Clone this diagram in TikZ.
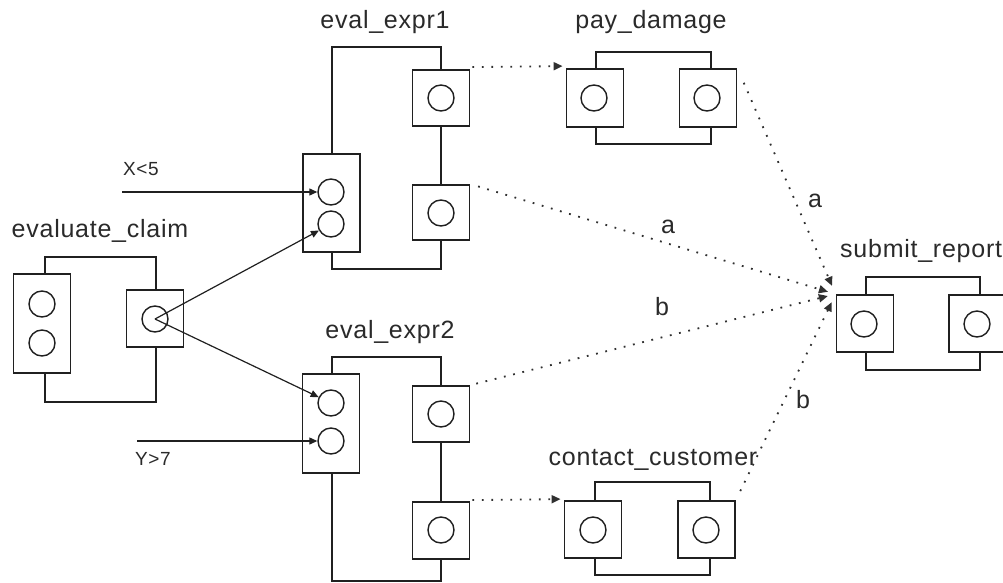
\documentclass[tikz,border=0pt]{standalone}
\usepackage{fontspec}
\setmainfont[LetterSpace=3]{Liberation Sans}
\usetikzlibrary{arrows.meta}
\definecolor{ink}{HTML}{202020}
\definecolor{txt}{HTML}{2A2A2A}
\definecolor{dots}{HTML}{303030}
\newcommand{\lblfont}{\fontsize{25}{30}\selectfont}
\newcommand{\condfont}{\fontsize{19}{22}\selectfont}

\tikzset{
  body/.style={draw=ink, line width=1.8pt, inner sep=0pt},
  port/.style={draw=ink, fill=white, line width=1.8pt, inner sep=0pt,
               minimum width=57pt, minimum height=57pt},
  dport/.style={port, minimum height=99pt},
  pin/.style={circle, draw=ink, line width=1.4pt, inner sep=0pt, minimum size=26pt},
  title/.style={font=\lblfont, text=txt, anchor=base, inner sep=0pt},
  cond/.style={font=\condfont, text=txt, anchor=base west, inner sep=0pt},
  flow/.style={draw=ink, line width=1.2pt, -{Triangle[length=8pt,width=7pt]}},
  guard/.style={draw=dots, line width=1.8pt, dash pattern=on 1.8pt off 7.7pt,
                -{Triangle[length=9pt,width=8pt]}},
}

\begin{document}
\begin{tikzpicture}[x=1pt,y=-1pt]
\clip (0,0) rectangle (1003,583);
\fill[white] (0,0) rectangle (1003,583);

% component bodies
\node[body, minimum width=111pt, minimum height=145pt] (ec) at (100.5,329.5) {};
\node[body, minimum width=109pt, minimum height=222pt] (e1) at (386.5,158) {};
\node[body, minimum width=109pt, minimum height=224pt] (e2) at (386.5,469) {};
\node[body, minimum width=115pt, minimum height=92pt] (pd) at (653.5,98) {};
\node[body, minimum width=115pt, minimum height=93pt] (cc) at (652.5,528.5) {};
\node[body, minimum width=114pt, minimum height=93pt] (sr) at (923,323.5) {};

% titles
\node[title] (ect) at (100,237) {evaluate\_claim};
\node[title] (e1t) at (385,29) {eval\_expr1};
\node[title] (e2t) at (390,338) {eval\_expr2};
\node[title] (pdt) at (651,29) {pay\_damage};
\node[title] (cct) at (653,465) {contact\_customer};
\node[title, anchor=base west] (srt) at (840,257) {submit\_report};

% ports
\node[dport] (eci) at (42,323.5) {};
\node[port] (eco) at (155,318.5) {};
\node[dport, minimum height=98pt] (e1i) at (331.5,203) {};
\node[port, minimum height=56pt] (e1o1) at (441,98) {};
\node[port, minimum height=55pt] (e1o2) at (441,212.5) {};
\node[dport] (e2i) at (331,423.5) {};
\node[port, minimum height=56pt] (e2o1) at (441,414) {};
\node[port] (e2o2) at (441,530.5) {};
\node[port, minimum height=58pt] (pdi) at (595,98) {};
\node[port, minimum height=58pt] (pdo) at (708,98) {};
\node[port] (cci) at (593,529.5) {};
\node[port] (cco) at (706.5,529.5) {};
\node[port] (sri) at (865,323.5) {};
\node[port] (sro) at (977.5,323.5) {};

% pins
\node[pin] (eca) at (42,304) {};
\node[pin] (ecb) at (42,343) {};
\node[pin] (ecc) at (155,319) {};
\node[pin] (e1a) at (331,192) {};
\node[pin] (e1b) at (331,224) {};
\node[pin] (e1c) at (441,98) {};
\node[pin] (e1d) at (441,213) {};
\node[pin] (e2a) at (331,403) {};
\node[pin] (e2b) at (331,441) {};
\node[pin] (e2c) at (441,414) {};
\node[pin] (e2d) at (441,530) {};
\node[pin] (pda) at (594,98) {};
\node[pin] (pdb) at (707,98) {};
\node[pin] (cca) at (593,530) {};
\node[pin] (ccb) at (706,530) {};
\node[pin] (sra) at (864,324) {};
\node[pin] (srb) at (977,324) {};

% external conditions
\coordinate (xin) at (122,192);
\coordinate (yin) at (137,441);
\node[cond] (xl) at (123,175) {X<5};
\node[cond] (yl) at (135,465) {Y>7};
\draw[flow] (xin) -- (e1a);
\draw[flow] (yin) -- (e2b);

% data flow out of evaluate_claim
\draw[flow] (ecc.center) -- (e1b);
\draw[flow] (ecc.center) -- (e2a);

% guarded transitions
\draw[guard, shorten <=2pt, shorten >=3pt]
  ([yshift=2pt]e1o1.north east) -- ([yshift=2pt]pdi.north west);
\draw[guard, shorten <=2pt, shorten >=3pt]
  ([yshift=1pt]e2o2.north east) -- ([yshift=1pt]cci.north west);
\draw[guard, shorten <=8pt, shorten >=8pt] (e1o2.north east) -- (sri.north west);
\draw[guard, shorten <=6pt, shorten >=8pt] (e2o1.north east) -- (sri.north west);
\draw[guard, shorten <=16pt, shorten >=9pt] (pdo.north east) -- (sri.north west);
\draw[guard, shorten <=10pt, shorten >=9pt] (cco.north east) -- (sri.north west);

% branch labels
\node[title] (la1) at (668,233) {a};
\node[title] (lb1) at (662,315) {b};
\node[title] (la2) at (815,207) {a};
\node[title] (lb2) at (803,408) {b};
\end{tikzpicture}
\end{document}
